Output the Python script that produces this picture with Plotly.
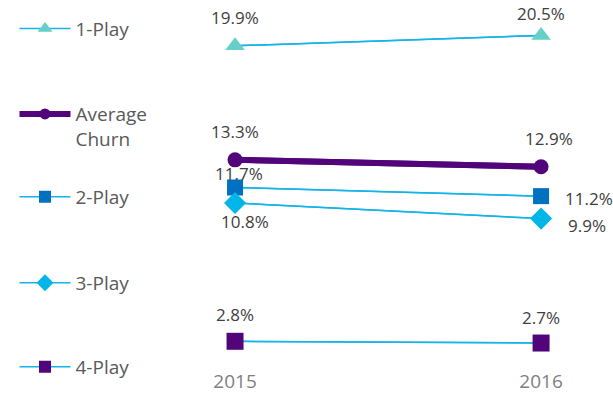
import plotly.graph_objects as go

# Churn by product bundle, 2015 vs 2016 (%)
years = ["2015", "2016"]
series_names = ["1-Play", "Average<br>Churn", "2-Play", "3-Play", "4-Play"]
play1 = [19.9, 20.5]
average = [13.3, 12.9]
play2 = [11.7, 11.2]
play3 = [10.8, 9.9]
play4 = [2.8, 2.7]

LINE_BLUE = "#14b4e6"
FONT = "Open Sans"

styles = [
    dict(values=play1, symbol="triangle-up", mcolor="#66d0c8", lcolor=LINE_BLUE, lw=1.5, ms=17, lms=13,
         shifts=[(0, 28), (0, 22)], legend_y=29),
    dict(values=average, symbol="circle", mcolor="#52057b", lcolor="#52057b", lw=6, ms=15, lms=11,
         shifts=[(0, 28), (8, 28)], legend_y=128),
    dict(values=play2, symbol="square", mcolor="#0070c0", lcolor=LINE_BLUE, lw=1.5, ms=16, lms=12,
         shifts=[(4, 14), (48, -2)], legend_y=199),
    dict(values=play3, symbol="diamond", mcolor="#00b5e8", lcolor=LINE_BLUE, lw=1.5, ms=17, lms=13,
         shifts=[(10, -18), (46, -7)], legend_y=286),
    dict(values=play4, symbol="square", mcolor="#52057b", lcolor=LINE_BLUE, lw=1.5, ms=17, lms=12,
         shifts=[(0, 27), (0, 26)], legend_y=371),
]

W, H, B = 613, 394, 22
PLOT_H = H - B
ITEM_W = 51

fig = go.Figure()
annotations = []
legends = {}
for i, (name, st) in enumerate(zip(series_names, styles)):
    legend_id = "legend" if i == 0 else f"legend{i + 1}"
    line = dict(color=st["lcolor"], width=st["lw"])
    # legend entry: same series with small markers (hidden under the main markers)
    fig.add_trace(go.Scatter(
        x=years, y=st["values"], name=name, mode="lines+markers", line=line,
        marker=dict(symbol=st["symbol"], color=st["mcolor"], size=st["lms"]),
        legend=legend_id, hoverinfo="skip",
    ))
    fig.add_trace(go.Scatter(
        x=years, y=st["values"], name=name, mode="lines+markers", line=line,
        marker=dict(symbol=st["symbol"], color=st["mcolor"], size=st["ms"]),
        showlegend=False, cliponaxis=False,
    ))
    # value labels: category axis positions are given by index
    for xi, v, (dx, dy) in zip(range(len(years)), st["values"], st["shifts"]):
        annotations.append(dict(
            x=xi, y=v, xref="x", yref="y", text=f"{v}%", showarrow=False,
            xshift=dx, yshift=dy,
            font=dict(family=FONT, size=17, color="#404040"),
        ))
    legends[legend_id] = dict(
        x=14.5 / W, xanchor="left",
        y=(PLOT_H - st["legend_y"]) / PLOT_H, yanchor="middle",
        valign="top", itemwidth=ITEM_W, bgcolor="rgba(0,0,0,0)",
        font=dict(family=FONT, size=19, color="#595959"),
    )

fig.update_layout(
    width=W, height=H,
    margin=dict(l=0, r=0, t=0, b=B),
    paper_bgcolor="white", plot_bgcolor="white",
    showlegend=True,
    xaxis=dict(type="category", categoryorder="array", categoryarray=years,
               range=[-0.768, 1.235], showgrid=False, zeroline=False, showline=False,
               ticks="", tickfont=dict(family=FONT, size=19, color="#808080")),
    yaxis=dict(range=[1.255, 22.55], visible=False),
    **legends,
)
fig.update_layout(annotations=annotations)

fig.write_html("out.html")
